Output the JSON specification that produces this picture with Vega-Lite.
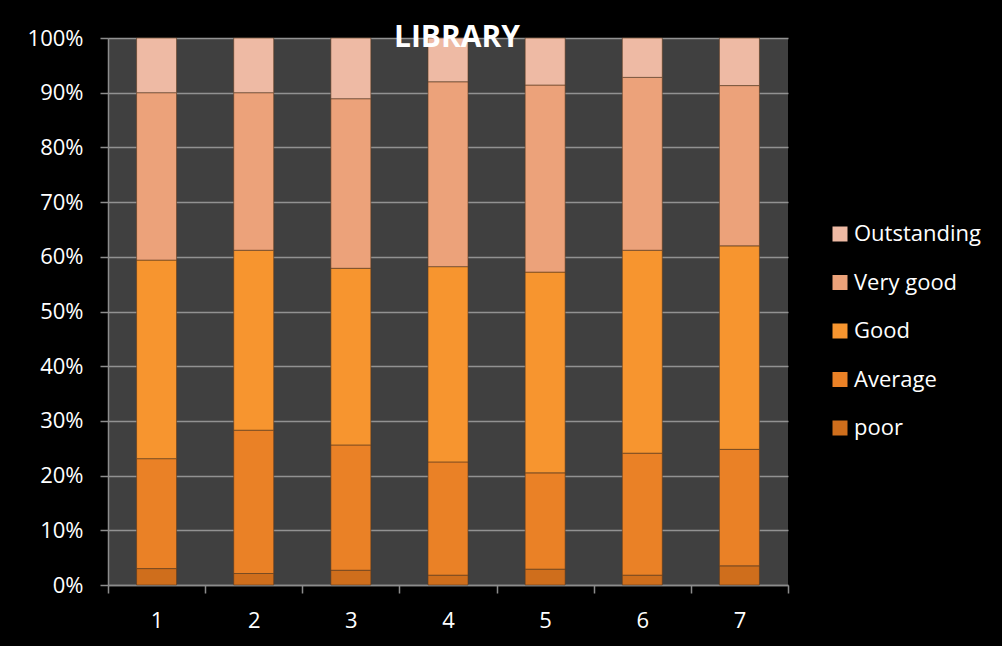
{
  "$schema": "https://vega.github.io/schema/vega-lite/v6.json",
  "width": 680,
  "height": 547,
  "autosize": {"type": "none"},
  "padding": {"left": 108, "top": 38, "right": 214, "bottom": 61},
  "background": "#000000",
  "config": {
    "font": "Open Sans",
    "view": {"fill": "#404040", "stroke": null}
  },
  "title": {
    "text": "LIBRARY",
    "font": "Open Sans",
    "fontSize": 30,
    "fontWeight": "bold",
    "color": "#ffffff",
    "anchor": "middle",
    "dx": 9,
    "baseline": "alphabetic",
    "offset": -50
  },
  "data": {
    "values": [
      {"group": "1", "rating": "poor", "rank": 1, "value": 3.0},
      {"group": "1", "rating": "Average", "rank": 2, "value": 20.1},
      {"group": "1", "rating": "Good", "rank": 3, "value": 36.3},
      {"group": "1", "rating": "Very good", "rank": 4, "value": 30.6},
      {"group": "1", "rating": "Outstanding", "rank": 5, "value": 10.0},
      {"group": "2", "rating": "poor", "rank": 1, "value": 2.1},
      {"group": "2", "rating": "Average", "rank": 2, "value": 26.2},
      {"group": "2", "rating": "Good", "rank": 3, "value": 32.9},
      {"group": "2", "rating": "Very good", "rank": 4, "value": 28.8},
      {"group": "2", "rating": "Outstanding", "rank": 5, "value": 10.0},
      {"group": "3", "rating": "poor", "rank": 1, "value": 2.7},
      {"group": "3", "rating": "Average", "rank": 2, "value": 22.9},
      {"group": "3", "rating": "Good", "rank": 3, "value": 32.3},
      {"group": "3", "rating": "Very good", "rank": 4, "value": 31.0},
      {"group": "3", "rating": "Outstanding", "rank": 5, "value": 11.1},
      {"group": "4", "rating": "poor", "rank": 1, "value": 1.8},
      {"group": "4", "rating": "Average", "rank": 2, "value": 20.7},
      {"group": "4", "rating": "Good", "rank": 3, "value": 35.7},
      {"group": "4", "rating": "Very good", "rank": 4, "value": 33.8},
      {"group": "4", "rating": "Outstanding", "rank": 5, "value": 8.0},
      {"group": "5", "rating": "poor", "rank": 1, "value": 2.9},
      {"group": "5", "rating": "Average", "rank": 2, "value": 17.6},
      {"group": "5", "rating": "Good", "rank": 3, "value": 36.7},
      {"group": "5", "rating": "Very good", "rank": 4, "value": 34.2},
      {"group": "5", "rating": "Outstanding", "rank": 5, "value": 8.6},
      {"group": "6", "rating": "poor", "rank": 1, "value": 1.8},
      {"group": "6", "rating": "Average", "rank": 2, "value": 22.3},
      {"group": "6", "rating": "Good", "rank": 3, "value": 37.1},
      {"group": "6", "rating": "Very good", "rank": 4, "value": 31.6},
      {"group": "6", "rating": "Outstanding", "rank": 5, "value": 7.2},
      {"group": "7", "rating": "poor", "rank": 1, "value": 3.5},
      {"group": "7", "rating": "Average", "rank": 2, "value": 21.3},
      {"group": "7", "rating": "Good", "rank": 3, "value": 37.2},
      {"group": "7", "rating": "Very good", "rank": 4, "value": 29.3},
      {"group": "7", "rating": "Outstanding", "rank": 5, "value": 8.7}
    ]
  },
  "mark": {
    "type": "bar",
    "width": 40,
    "stroke": "#5a3a20",
    "strokeWidth": 1,
    "strokeOpacity": 0.6
  },
  "encoding": {
    "x": {
      "field": "group",
      "type": "ordinal",
      "scale": {"paddingInner": 0, "paddingOuter": 0},
      "axis": {
        "title": null,
        "labelAngle": 0,
        "labelColor": "#ffffff",
        "labelFontSize": 22,
        "labelFont": "Open Sans",
        "labelPadding": 17,
        "tickBand": "extent",
        "tickColor": "#8c8c8c",
        "tickSize": 8,
        "tickWidth": 1.5,
        "domainColor": "#8c8c8c",
        "domainWidth": 1.5,
        "grid": false
      }
    },
    "y": {
      "field": "value",
      "type": "quantitative",
      "stack": "normalize",
      "scale": {"domain": [0, 1]},
      "axis": {
        "title": null,
        "format": ".0%",
        "values": [0, 0.1, 0.2, 0.3, 0.4, 0.5, 0.6, 0.7, 0.8, 0.9, 1],
        "labelColor": "#ffffff",
        "labelFontSize": 22,
        "labelFont": "Open Sans",
        "labelPadding": 17,
        "tickColor": "#8c8c8c",
        "tickSize": 8,
        "tickWidth": 1.5,
        "domainColor": "#8c8c8c",
        "domainWidth": 1.5,
        "grid": true,
        "gridColor": "#929292",
        "gridWidth": 1.5
      }
    },
    "color": {
      "field": "rating",
      "type": "nominal",
      "scale": {
        "domain": ["Outstanding", "Very good", "Good", "Average", "poor"],
        "range": ["#eebaa4", "#eca27a", "#f7952f", "#ea8126", "#cf6e1c"]
      },
      "legend": {
        "title": null,
        "orient": "none",
        "legendX": 721,
        "legendY": 185,
        "symbolType": "square",
        "symbolSize": 225,
        "symbolStrokeWidth": 0,
        "symbolOpacity": 1,
        "labelColor": "#ffffff",
        "labelFontSize": 22,
        "labelFont": "Open Sans",
        "labelOffset": 3,
        "rowPadding": 26.5,
        "padding": 0
      }
    },
    "order": {"field": "rank", "type": "quantitative"}
  }
}
